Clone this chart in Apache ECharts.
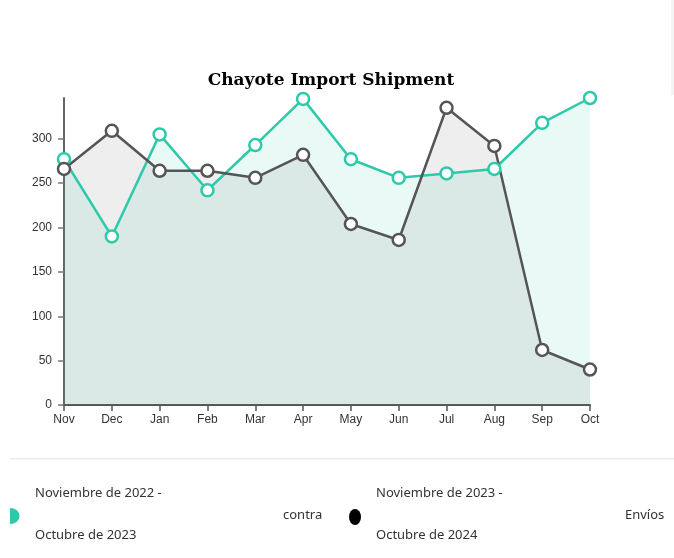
<!DOCTYPE html>
<html>
<head>
<meta charset="utf-8">
<script src="https://cdn.jsdelivr.net/npm/echarts@6/dist/echarts.min.js"></script>
<style>
  html, body { margin: 0; padding: 0; background: #fff; }
  #chart { width: 674px; height: 558px; }
</style>
</head>
<body>
<div id="chart"></div>
<script>
const months = ['Nov', 'Dec', 'Jan', 'Feb', 'Mar', 'Apr', 'May', 'Jun', 'Jul', 'Aug', 'Sep', 'Oct'];
// Nov 2022 - Oct 2023
const prevYear = [277, 190, 305, 242, 293, 345, 277, 256, 261, 266, 318, 346];
// Nov 2023 - Oct 2024
const currYear = [266, 309, 264, 264, 256, 282, 204, 186, 335, 292, 62, 40];
const yTicks = [0, 50, 100, 150, 200, 250, 300];

const tealColor = '#2ccaa9';
const grayColor = '#555555';
const yMax = Math.max(...prevYear, ...currYear);

const myChart = echarts.init(document.getElementById('chart'));

function lineSeries(data, color) {
  return {
    type: 'line',
    data: data,
    symbol: 'circle',
    symbolSize: 12,
    showAllSymbol: true,
    animation: false,
    itemStyle: { color: '#fff', borderColor: color, borderWidth: 2.5 },
    lineStyle: { color: color, width: 2.5 },
    areaStyle: { color: color, opacity: 0.1 },
  };
}

const legendFont = '13px "Noto Sans"';

const option = {
  backgroundColor: '#fff',
  animation: false,
  title: {
    text: 'Chayote Import Shipment',
    left: 326,
    textAlign: 'center',
    top: 67,
    textStyle: {
      fontFamily: 'DejaVu Serif',
      fontWeight: 'bold',
      fontSize: 17,
      color: '#000',
    },
  },
  grid: { left: 64, right: 84, top: 98, bottom: 153 },
  xAxis: {
    type: 'category',
    data: months,
    boundaryGap: false,
    axisLine: { lineStyle: { color: '#555', width: 2 } },
    axisTick: { alignWithLabel: true, length: 6, lineStyle: { color: '#555', width: 1.5 } },
    axisLabel: { color: '#333', fontFamily: 'Liberation Sans', fontSize: 12, margin: 9 },
  },
  yAxis: {
    type: 'value',
    min: 0,
    max: yMax,
    interval: 50,
    splitLine: { show: false },
    axisLine: { show: true, lineStyle: { color: '#666', width: 2 } },
    axisTick: { show: true, length: 6, lineStyle: { color: '#777', width: 1.5 } },
    axisLabel: {
      color: '#333',
      fontFamily: 'Liberation Sans',
      fontSize: 12,
      margin: 12,
      showMaxLabel: false,
      formatter: v => (yTicks.indexOf(v) >= 0 ? String(v) : ''),
    },
  },
  series: [
    lineSeries(prevYear, tealColor),
    lineSeries(currYear, grayColor),
  ],
  graphic: [
    { type: 'rect', shape: { x: 10, y: 458, width: 664, height: 1.5 }, style: { fill: '#ececec' } },
    { type: 'rect', shape: { x: 671, y: 0, width: 3, height: 95 }, style: { fill: '#f4f4f4' } },
    { type: 'sector', shape: { cx: 10, cy: 516, r: 8, startAngle: -Math.PI / 2, endAngle: Math.PI / 2 }, scaleX: 1.2, originX: 10, originY: 516, style: { fill: tealColor } },
    { type: 'text', left: 35, top: 487, style: { text: 'Noviembre de 2022 -', font: legendFont, fill: '#333' } },
    { type: 'text', left: 35, top: 529, style: { text: 'Octubre de 2023', font: legendFont, fill: '#333' } },
    { type: 'text', left: 283, top: 509, style: { text: 'contra', font: legendFont, fill: '#333' } },
    { type: 'circle', x: 355, y: 517, scaleX: 0.75, shape: { cx: 0, cy: 0, r: 8 }, style: { fill: '#000' } },
    { type: 'text', left: 376, top: 487, style: { text: 'Noviembre de 2023 -', font: legendFont, fill: '#333' } },
    { type: 'text', left: 376, top: 529, style: { text: 'Octubre de 2024', font: legendFont, fill: '#333' } },
    { type: 'text', x: 625, y: 509, style: { text: 'Envíos', font: legendFont, fill: '#333' } },
  ],
};

myChart.setOption(option);
</script>
</body>
</html>
